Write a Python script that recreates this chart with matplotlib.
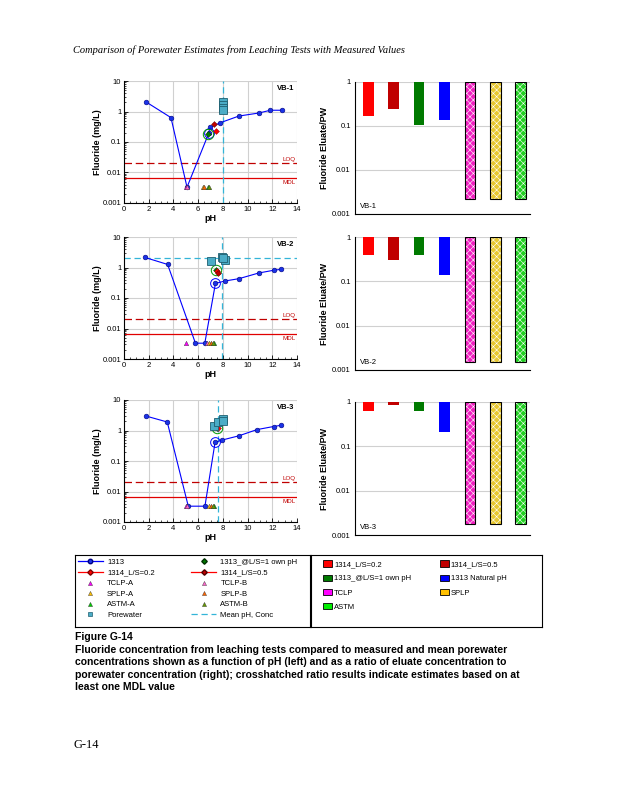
import matplotlib
matplotlib.use('Agg')
import matplotlib.pyplot as plt
from matplotlib.lines import Line2D
from matplotlib.patches import Patch
from matplotlib.ticker import MultipleLocator, LogLocator, NullFormatter

plt.rcParams['font.family'] = ['Liberation Sans', 'DejaVu Sans']
plt.rcParams['hatch.linewidth'] = 0.4

# ---- data ----
panels = ['VB-1', 'VB-2', 'VB-3']

ph_1313 = [
    [1.75, 3.8, 5.1, 6.85, 6.95, 7.8, 9.3, 10.9, 11.85, 12.75],
    [1.67, 3.53, 5.78, 6.54, 7.4, 8.15, 9.3, 10.9, 12.1, 12.7],
    [1.75, 3.5, 5.2, 6.55, 7.37, 7.97, 9.3, 10.76, 12.1, 12.7],
]
f_1313 = [
    [2.1, 0.63, 0.0033, 0.19, 0.30, 0.43, 0.71, 0.89, 1.1, 1.1],
    [2.15, 1.26, 0.0033, 0.0033, 0.30, 0.36, 0.43, 0.66, 0.81, 0.87],
    [3.0, 1.9, 0.0033, 0.0033, 0.41, 0.49, 0.67, 1.07, 1.35, 1.48],
]
natural_idx = [3, 4, 4]   # 1313 point at natural pH (circled)

ph_own = [6.8, 7.43, 7.5]
f_own = [0.18, 0.80, 1.25]
ph_02 = [7.43, 7.5, 7.6]
f_02 = [0.23, 0.78, 1.2]
ph_05 = [7.3, 7.6, 7.45]
f_05 = [0.38, 0.65, 1.6]

# triangles (below MDL): TCLP-A, TCLP-B, SPLP-A, SPLP-B, ASTM-A, ASTM-B
ph_tri = [
    [5.0, 5.1, 6.4, 6.5, 6.8, 6.9],
    [5.0, 6.7, 6.86, 7.0, 7.3, 7.2],
    [5.0, 5.1, 6.9, 7.0, 7.3, 7.2],
]
f_tri = 0.0033

ph_pw = [[8.0, 8.0, 8.0, 8.05], [7.0, 7.9, 8.15, 8.0], [7.3, 7.6, 8.0, 8.0]]
f_pw = [[2.1, 1.6, 1.27, 1.1], [1.6, 2.15, 1.8, 2.0], [1.4, 1.86, 2.3, 2.1]]
mean_ph = [8.0, 7.9, 7.6]
mean_conc = [None, 2.0, None]

loq = 0.02
mdl = 0.0065

bar_labels = ['1314_L/S=0.2', '1314_L/S=0.5', '1313_@L/S=1 own pH', '1313 Natural pH',
              'TCLP', 'SPLP', 'ASTM']
ratios = [
    [0.165, 0.245, 0.108, 0.14, 0.0022, 0.0022, 0.0022],
    [0.39, 0.30, 0.39, 0.138, 0.0015, 0.0015, 0.0015],
    [0.63, 0.86, 0.63, 0.215, 0.0018, 0.0018, 0.0018],
]
bar_colors = ['#ff0000', '#c00000', '#007a00', '#0000ff', '#f020c0', '#e8c830', '#22d022']
bar_hatched = [False, False, False, False, True, True, True]

tri_colors = ['#ff00ff', '#ff66cc', '#ffc000', '#ff6600', '#00cc00', '#669900']
tri_labels = ['TCLP-A', 'TCLP-B', 'SPLP-A', 'SPLP-B', 'ASTM-A', 'ASTM-B']

W, H = 618, 800
fig = plt.figure(figsize=(W / 100, H / 100), dpi=100)
fig.patch.set_facecolor('white')


def box(x0, y0, x1, y1):
    return [x0 / W, 1 - y1 / H, (x1 - x0) / W, (y1 - y0) / H]


left_boxes = [(124, 81, 297, 203), (124, 237, 297, 359), (124, 400, 297, 522)]
right_boxes = [(355, 82, 530, 214), (355, 237, 530, 370), (355, 402, 530, 535)]

tick_fs = 5.5
grid_c = '#d0d0d0'
pw_c = '#4bacc6'
mean_c = '#33b5d8'

for i, name in enumerate(panels):
    # ---- left: fluoride vs pH ----
    ax = fig.add_axes(box(*left_boxes[i]))
    ax.set_yscale('log')
    ax.set_xlim(0, 14)
    ax.set_ylim(0.001, 10)
    ax.grid(True, which='major', color=grid_c, lw=0.8)
    ax.set_axisbelow(True)
    ax.xaxis.set_major_locator(MultipleLocator(2))
    ax.xaxis.set_minor_locator(MultipleLocator(0.5))
    ax.yaxis.set_minor_locator(LogLocator(subs=range(2, 10)))
    ax.yaxis.set_minor_formatter(NullFormatter())
    ax.set_yticks([0.001, 0.01, 0.1, 1, 10])
    ax.set_yticklabels(['0.001', '0.01', '0.1', '1', '10'])
    ax.tick_params(direction='in', labelsize=tick_fs, length=3, width=0.6, pad=2)
    ax.tick_params(which='minor', direction='in', length=1.5, width=0.5)
    for s in ['top', 'right']:
        ax.spines[s].set_visible(False)
    for s in ['left', 'bottom']:
        ax.spines[s].set_linewidth(0.8)

    ax.axhline(loq, color='#c00000', ls=(0, (6, 3)), lw=0.9, zorder=2)
    ax.axhline(mdl, color='#e00000', lw=0.9, zorder=2)
    ax.text(13.9, loq * 1.12, 'LOQ', color='#c00000', fontsize=4.5, ha='right', va='bottom')
    ax.text(13.9, mdl / 1.15, 'MDL', color='#c00000', fontsize=4.5, ha='right', va='top')

    ax.axvline(mean_ph[i], color=mean_c, ls=(0, (5, 3)), lw=0.9, zorder=2)
    if mean_conc[i] is not None:
        ax.axhline(mean_conc[i], color=mean_c, ls=(0, (5, 3)), lw=0.9, zorder=2)

    ax.plot(ph_1313[i], f_1313[i], color='#0000ff', lw=0.8, marker='o', ms=3.4,
            mfc='#1a33e6', mec='#000080', mew=0.4, zorder=4)
    k = natural_idx[i]
    ax.plot(ph_1313[i][k], f_1313[i][k], 'o', ms=7, mfc='none', mec='#0000ff', mew=0.7, zorder=4)

    ax.plot(ph_own[i], f_own[i], 'D', ms=3, mfc='#007a00', mec='#003000', mew=0.3, zorder=5)
    ax.plot(ph_own[i], f_own[i], 'o', ms=7.5, mfc='none', mec='#009900', mew=0.7, zorder=5)
    ax.plot(ph_02[i], f_02[i], 'D', ms=3, mfc='#ff0000', mec='#800000', mew=0.3, zorder=5)
    ax.plot(ph_05[i], f_05[i], 'D', ms=3, mfc='#c00000', mec='#500000', mew=0.3, zorder=5)

    for j, c in enumerate(tri_colors):
        ax.plot(ph_tri[i][j], f_tri, '^', ms=3.2, mfc=c, mec='#333333', mew=0.3, zorder=5)

    ax.plot(ph_pw[i], f_pw[i], 's', ms=5.5, mfc=pw_c, mec='#1f5f70', mew=0.6, zorder=6)

    ax.text(0.985, 0.97, name, transform=ax.transAxes, ha='right', va='top',
            fontsize=5.5, fontweight='bold')
    ax.set_xlabel('pH', fontsize=6.5, fontweight='bold', labelpad=1)
    ax.set_ylabel('Fluoride (mg/L)', fontsize=6.5, fontweight='bold', labelpad=0)

    # ---- right: ratio bars ----
    bx = fig.add_axes(box(*right_boxes[i]))
    bx.set_yscale('log')
    bx.set_ylim(0.001, 1)
    bx.set_xlim(-0.53, 6.37)
    xs = list(range(len(bar_labels)))
    for x, v, c, h in zip(xs, ratios[i], bar_colors, bar_hatched):
        if h:
            bx.bar(x, 1 - v, bottom=v, width=0.42, color=c, edgecolor='white',
                   hatch='xxxxx', lw=0, zorder=3)
            bx.bar(x, 1 - v, bottom=v, width=0.42, fill=False, edgecolor='black',
                   lw=0.8, zorder=4)
        else:
            bx.bar(x, 1 - v, bottom=v, width=0.42, color=c, lw=0, zorder=3)
    bx.set_xticks([])
    bx.set_yticks([0.001, 0.01, 0.1, 1])
    bx.set_yticklabels(['0.001', '0.01', '0.1', '1'])
    bx.yaxis.set_minor_locator(LogLocator(subs=[]))
    bx.grid(True, axis='y', which='major', color=grid_c, lw=0.8)
    bx.set_axisbelow(True)
    bx.tick_params(labelsize=tick_fs, length=0, pad=3)
    for s in ['top', 'right']:
        bx.spines[s].set_visible(False)
    for s in ['left', 'bottom']:
        bx.spines[s].set_linewidth(0.8)
    bx.text(0.03, 0.03, name, transform=bx.transAxes, ha='left', va='bottom', fontsize=5.5)
    bx.set_ylabel('Fluoride Eluate/PW', fontsize=6.5, fontweight='bold', labelpad=2)

# ---- legends ----
lg1 = fig.add_axes(box(75, 555, 310, 627))
lg1.set_xticks([])
lg1.set_yticks([])
for s in lg1.spines.values():
    s.set_linewidth(0.8)
h_left = [
    Line2D([], [], color='#0000ff', lw=0.9, marker='o', ms=3.2, mfc='#1a33e6', mec='#000080'),
    Line2D([], [], color='#ff0000', lw=0.9, marker='D', ms=2.8, mfc='#ff0000', mec='#800000'),
]
h_left += [Line2D([], [], ls='none', marker='^', ms=3, mfc=tri_colors[j], mec='#333333', mew=0.3)
           for j in (0, 2, 4)]
h_left += [Line2D([], [], ls='none', marker='s', ms=3.5, mfc=pw_c, mec='#1f5f70', mew=0.5)]
h_right = [
    Line2D([], [], ls='none', marker='D', ms=2.8, mfc='#007a00', mec='#003000'),
    Line2D([], [], color='#ff0000', lw=0.9, marker='D', ms=2.8, mfc='#c00000', mec='#500000'),
]
h_right += [Line2D([], [], ls='none', marker='^', ms=3, mfc=tri_colors[j], mec='#333333', mew=0.3)
            for j in (1, 3, 5)]
h_right += [Line2D([], [], color=mean_c, lw=0.9, ls=(0, (5, 3)))]
l_left = ['1313', '1314_L/S=0.2', 'TCLP-A', 'SPLP-A', 'ASTM-A', 'Porewater']
l_right = ['1313_@L/S=1 own pH', '1314_L/S=0.5', 'TCLP-B', 'SPLP-B', 'ASTM-B', 'Mean pH, Conc']
lg1.legend(h_left + h_right, l_left + l_right, ncol=2, loc='upper left', frameon=False,
           fontsize=5.5, handlelength=3.2, handletextpad=0.6, columnspacing=4.8,
           labelspacing=0.42, borderaxespad=0.0, bbox_to_anchor=(0.0, 0.99))

lg2 = fig.add_axes(box(311, 555, 542, 627))
lg2.set_xticks([])
lg2.set_yticks([])
for s in lg2.spines.values():
    s.set_linewidth(0.8)
leg_cols = ['#ff0000', '#c00000', '#007a00', '#0000ff', '#ff00ff', '#ffc000', '#00ee00']
order = [0, 2, 4, 6, 1, 3, 5]
lg2.legend([Patch(facecolor=leg_cols[k], edgecolor='black', lw=0.6) for k in order],
           [bar_labels[k] if k != 6 else 'ASTM' for k in order],
           ncol=2, loc='upper left', frameon=False, fontsize=5.5, handlelength=1.1,
           handleheight=0.9, handletextpad=0.3, columnspacing=3.8, labelspacing=0.85,
           borderaxespad=0.0, bbox_to_anchor=(0.04, 0.97))

# ---- page text ----
fig.text(73 / W, 1 - 50 / H,
         'Comparison of Porewater Estimates from Leaching Tests with Measured Values',
         fontsize=7.5, style='italic', family='Liberation Serif', va='center')
fig.text(75 / W, 1 - 637 / H, 'Figure G-14', fontsize=7.5, fontweight='bold', va='center')
caption = [
    'Fluoride concentration from leaching tests compared to measured and mean porewater',
    'concentrations shown as a function of pH (left) and as a ratio of eluate concentration to',
    'porewater concentration (right); crosshatched ratio results indicate estimates based on at',
    'least one MDL value',
]
for n, line in enumerate(caption):
    fig.text(75 / W, 1 - (650 + 12.4 * n) / H, line, fontsize=7.5, fontweight='bold', va='center')
fig.text(73 / W, 1 - 745 / H, 'G-14', fontsize=9, family='Liberation Serif', va='center')

fig.savefig('out.png', dpi=100)
